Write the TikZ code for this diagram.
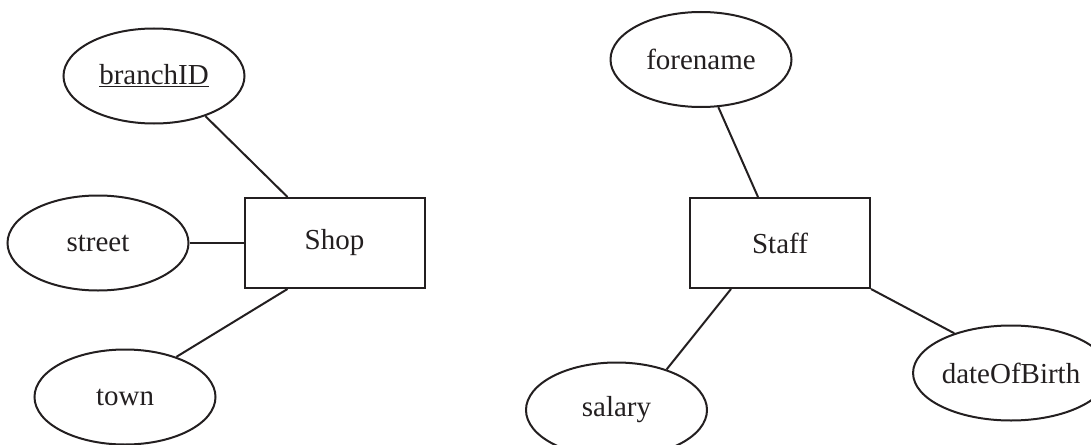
\documentclass[tikz,border=0pt]{standalone}
\usepackage{fontspec}
\setmainfont{Liberation Serif}
\usetikzlibrary{shapes.geometric}
\definecolor{ink}{HTML}{231F20}
\begin{document}
\begin{tikzpicture}[x=1pt,y=-1pt,
  every node/.style={font=\fontsize{29}{34}\selectfont, text=ink},
  attr/.style={draw=ink, line width=2pt, ellipse, minimum width=181pt, minimum height=95pt, inner sep=0pt},
  entity/.style={draw=ink, line width=2pt, rectangle, minimum width=180pt, minimum height=90pt, inner sep=0pt},
  link/.style={draw=ink, line width=2pt}]
\useasboundingbox (0,0) rectangle (1091,444);
% Shop side
\node[entity] (shop) at (334.5,243) {Shop};
\node[attr] (branch) at (154,76) {\underline{branchID}};
\node[attr] (street) at (98,243) {street};
\node[attr] (town) at (125,397) {town};
% Staff side
\node[entity] (staff) at (780,243) {Staff};
\node[attr] (fore) at (701,59.5) {forename};
\node[attr] (salary) at (616.5,410) {salary};
\node[attr] (dob) at (1011,373) {dateOfBirth};
% connectors
\draw[link] (branch.-38.7) -- ([xshift=44pt]shop.north west);
\draw[link] (street.east) -- (shop.west);
\draw[link] (town.38.7) -- ([xshift=44pt]shop.south west);
\draw[link] (fore.-70) -- ([xshift=69pt]staff.north west);
\draw[link] (salary.39) -- ([xshift=42pt]staff.south west);
\draw[link] (dob.145) -- (staff.south east);
\end{tikzpicture}
\end{document}
